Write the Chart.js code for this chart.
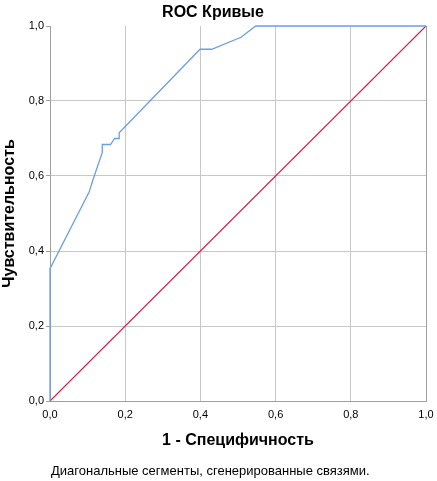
<!DOCTYPE html>
<html>
<head>
<meta charset="utf-8">
<script src="https://cdn.jsdelivr.net/npm/chart.js@4"></script>
<style>
html,body{margin:0;padding:0;background:#fff;}
#wrap{width:437px;height:481px;}
</style>
</head>
<body>
<div id="wrap"><canvas id="c" width="437" height="481"></canvas></div>
<script>
// ---- data ----
const rocFpr = [0, 0, 0.104, 0.115, 0.139, 0.139, 0.161, 0.172, 0.184, 0.184, 0.399, 0.430, 0.508, 0.547, 1.0];
const rocTpr = [0, 0.353, 0.557, 0.592, 0.663, 0.684, 0.684, 0.700, 0.700, 0.715, 0.938, 0.938, 0.970, 1.0, 1.0];
const refFpr = [0, 1];
const refTpr = [0, 1];
const xTickLabels = ['0,0', '0,2', '0,4', '0,6', '0,8', '1,0'];
const yTickLabels = ['0,0', '0,2', '0,4', '0,6', '0,8', '1,0'];
const titleText = 'ROC Кривые';
const xTitle = '1 - Специфичность';
const yTitle = 'Чувствительность';
const footnote = 'Диагональные сегменты, сгенерированные связями.';

const FONT = "'Liberation Sans', Arial, sans-serif";
const toPts = (xs, ys) => xs.map((x, i) => ({x: x, y: ys[i]}));

const footnotePlugin = {
  id: 'footnote',
  afterDraw(chart) {
    const ctx = chart.ctx;
    ctx.save();
    ctx.font = '13px ' + FONT;
    ctx.fillStyle = '#000';
    ctx.textAlign = 'left';
    ctx.textBaseline = 'middle';
    ctx.fillText(footnote, chart.chartArea.left + 1, chart.height - 9.5);
    ctx.restore();
  }
};

new Chart(document.getElementById('c'), {
  type: 'scatter',
  data: {
    datasets: [
      {
        data: toPts(rocFpr, rocTpr),
        showLine: true,
        borderColor: '#6b9de8',
        borderWidth: 1.3,
        pointRadius: 0,
        tension: 0,
        clip: false
      },
      {
        data: toPts(refFpr, refTpr),
        showLine: true,
        borderColor: '#d6204e',
        borderWidth: 1.1,
        pointRadius: 0,
        tension: 0,
        clip: false
      }
    ]
  },
  plugins: [footnotePlugin],
  options: {
    responsive: false,
    animation: false,
    devicePixelRatio: 1,
    layout: {padding: {left: 0, right: 11, top: 0, bottom: 17.4}},
    plugins: {
      legend: {display: false},
      tooltip: {enabled: false},
      title: {
        display: true,
        text: titleText,
        color: '#000',
        font: {family: FONT, size: 16, weight: 'bold'},
        padding: {top: 3, bottom: 3.8},
        align: 'center'
      }
    },
    scales: {
      x: {
        type: 'linear',
        min: 0, max: 1,
        afterBuildTicks: s => { s.ticks = xTickLabels.map((_, i) => ({value: i * 0.2})); },
        ticks: {
          color: '#000',
          font: {family: FONT, size: 11},
          padding: 3,
          maxRotation: 0,
          callback: (v, i) => xTickLabels[i]
        },
        grid: {
          color: c => (c.tick && Math.abs(c.tick.value - 1) < 1e-6) ? '#a0a0a0' : '#c8c8c8',
          lineWidth: 1,
          tickLength: 4,
          tickColor: 'rgba(0,0,0,0)'
        },
        border: {display: true, color: '#a0a0a0', width: 1},
        title: {
          display: true,
          text: xTitle,
          color: '#000',
          font: {family: FONT, size: 16, weight: 'bold'},
          padding: {top: 0, bottom: 13}
        },
        afterFit: s => { s.height = 62.6; }
      },
      y: {
        type: 'linear',
        min: 0, max: 1,
        afterBuildTicks: s => { s.ticks = yTickLabels.map((_, i) => ({value: i * 0.2})); },
        ticks: {
          color: '#000',
          font: {family: FONT, size: 11},
          padding: 2,
          callback: (v, i) => yTickLabels[i]
        },
        grid: {
          color: c => (c.tick && Math.abs(c.tick.value - 1) < 1e-6) ? 'rgba(0,0,0,0)' : '#c8c8c8',
          lineWidth: 1,
          tickLength: 4,
          tickColor: '#a0a0a0'
        },
        border: {display: true, color: '#a0a0a0', width: 1},
        title: {
          display: true,
          text: yTitle,
          color: '#000',
          font: {family: FONT, size: 16, weight: 'bold'},
          padding: {top: 0, bottom: 0}
        },
        afterFit: s => { s.width = 50; }
      }
    }
  }
});
</script>
</body>
</html>
